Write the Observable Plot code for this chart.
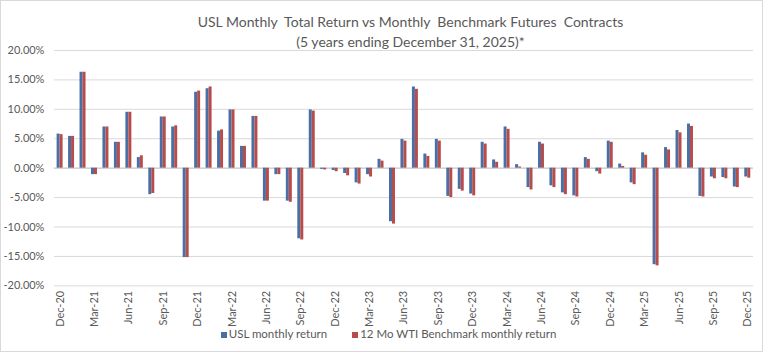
<!DOCTYPE html>
<html>
<head>
<meta charset="utf-8">
<script src="https://cdn.jsdelivr.net/npm/d3@7"></script>
<script src="https://cdn.jsdelivr.net/npm/@observablehq/plot@0.6"></script>
<style>
  html, body { margin: 0; padding: 0; background: #fff; }
  #frame { position: relative; width: 763px; height: 352px; box-sizing: border-box; border: 1px solid #d9d9d9; font-family: Lato, "Open Sans", sans-serif; color: #595959; overflow: hidden; }
  #title { height: 43px; padding-top: 11px; box-sizing: border-box; text-align: center; padding-left: 58px; font-size: 14px; line-height: 20px; white-space: pre; position: relative; z-index: 1; }
  #chart { height: 283px; }
  #chart svg { display: block; }
  #legend { display: flex; justify-content: center; gap: 25px; font-size: 11.5px; line-height: 14px; height: 14px; padding-left: 14px; }
  #legend span.sw { display: inline-block; width: 6px; height: 6px; margin-right: 2px; vertical-align: 0px; }
</style>
</head>
<body>
<div id="frame">
  <div id="title">USL Monthly  Total Return vs Monthly  Benchmark Futures  Contracts
(5 years ending December 31, 2025)*</div>
  <div id="chart"></div>
  <div id="legend"></div>
</div>
<script>
const months = ["Dec-20","Jan-21","Feb-21","Mar-21","Apr-21","May-21","Jun-21","Jul-21","Aug-21","Sep-21","Oct-21","Nov-21",
  "Dec-21","Jan-22","Feb-22","Mar-22","Apr-22","May-22","Jun-22","Jul-22","Aug-22","Sep-22","Oct-22","Nov-22",
  "Dec-22","Jan-23","Feb-23","Mar-23","Apr-23","May-23","Jun-23","Jul-23","Aug-23","Sep-23","Oct-23","Nov-23",
  "Dec-23","Jan-24","Feb-24","Mar-24","Apr-24","May-24","Jun-24","Jul-24","Aug-24","Sep-24","Oct-24","Nov-24",
  "Dec-24","Jan-25","Feb-25","Mar-25","Apr-25","May-25","Jun-25","Jul-25","Aug-25","Sep-25","Oct-25","Nov-25","Dec-25"];

const uslReturn = [5.8, 5.4, 16.3, -1.1, 7.0, 4.4, 9.5, 1.8, -4.5, 8.7, 7.0, -15.2,
  12.9, 13.5, 6.3, 9.9, 3.7, 8.8, -5.6, -1.1, -5.6, -12.0, 9.9, -0.2,
  -0.4, -0.9, -2.5, -1.1, 1.5, -9.1, 4.9, 13.8, 2.4, 4.9, -4.8, -3.6,
  -4.4, 4.4, 1.4, 7.0, 0.6, -3.3, 4.4, -3.0, -4.2, -4.7, 1.8, -0.6,
  4.6, 0.7, -2.5, 2.6, -16.4, 3.5, 6.4, 7.5, -4.8, -1.5, -1.6, -3.2, -1.5];

const wtiReturn = [5.7, 5.4, 16.3, -1.1, 7.0, 4.4, 9.5, 2.1, -4.3, 8.7, 7.2, -15.2,
  13.1, 13.8, 6.5, 9.9, 3.7, 8.8, -5.6, -1.1, -5.8, -12.2, 9.7, -0.3,
  -0.6, -1.3, -2.7, -1.5, 1.2, -9.5, 4.6, 13.4, 2.0, 4.6, -5.0, -3.9,
  -4.7, 4.1, 1.0, 6.6, 0.2, -3.7, 4.1, -3.3, -4.5, -4.9, 1.5, -1.0,
  4.4, 0.3, -2.8, 2.2, -16.6, 3.1, 6.0, 7.1, -4.9, -1.8, -1.8, -3.3, -1.7];

const tickLabels = ["Dec-20","Mar-21","Jun-21","Sep-21","Dec-21","Mar-22","Jun-22","Sep-22","Dec-22","Mar-23",
  "Jun-23","Sep-23","Dec-23","Mar-24","Jun-24","Sep-24","Dec-24","Mar-25","Jun-25","Sep-25","Dec-25"];

const yTicks = [-20, -15, -10, -5, 0, 5, 10, 15, 20];

const seriesNames = ["USL monthly return", "12 Mo WTI Benchmark monthly return"];
const seriesColors = ["#4a6fa5", "#b84c4b"];

const uslData = months.map((m, i) => ({month: m, value: uslReturn[i]}));
const wtiData = months.map((m, i) => ({month: m, value: wtiReturn[i]}));

const W = 763, H = 283, mL = 53, mR = 9;
const band = (W - mL - mR) / months.length;
const barW = 3;

const chart = Plot.plot({
  width: W,
  height: H,
  marginLeft: mL,
  marginRight: mR,
  marginTop: 6,
  marginBottom: 41,
  style: {fontFamily: "Lato, 'Open Sans', sans-serif", fontSize: "11px", color: "#595959", background: "transparent"},
  x: {domain: months, padding: 0, round: false, label: null, ticks: tickLabels, tickRotate: -90, tickSize: 0, tickPadding: 5},
  y: {domain: [-20, 20], ticks: yTicks, tickFormat: d => d.toFixed(2) + "%", label: null, tickSize: 0, tickPadding: 10},
  marks: [
    Plot.ruleY(yTicks, {stroke: "#d9d9d9", strokeWidth: 1}),
    Plot.ruleY([0], {stroke: "#c8c8c8", strokeWidth: 1}),
    Plot.barY(uslData, {x: "month", y: "value", fill: seriesColors[0], insetLeft: band / 2 - barW, insetRight: band / 2}),
    Plot.barY(wtiData, {x: "month", y: "value", fill: seriesColors[1], insetLeft: band / 2, insetRight: band / 2 - barW})
  ]
});
document.getElementById("chart").appendChild(chart);

const legend = document.getElementById("legend");
seriesNames.forEach((name, i) => {
  const item = document.createElement("div");
  const sw = document.createElement("span");
  sw.className = "sw";
  sw.style.background = seriesColors[i];
  item.appendChild(sw);
  item.appendChild(document.createTextNode(name));
  legend.appendChild(item);
});
</script>
</body>
</html>
